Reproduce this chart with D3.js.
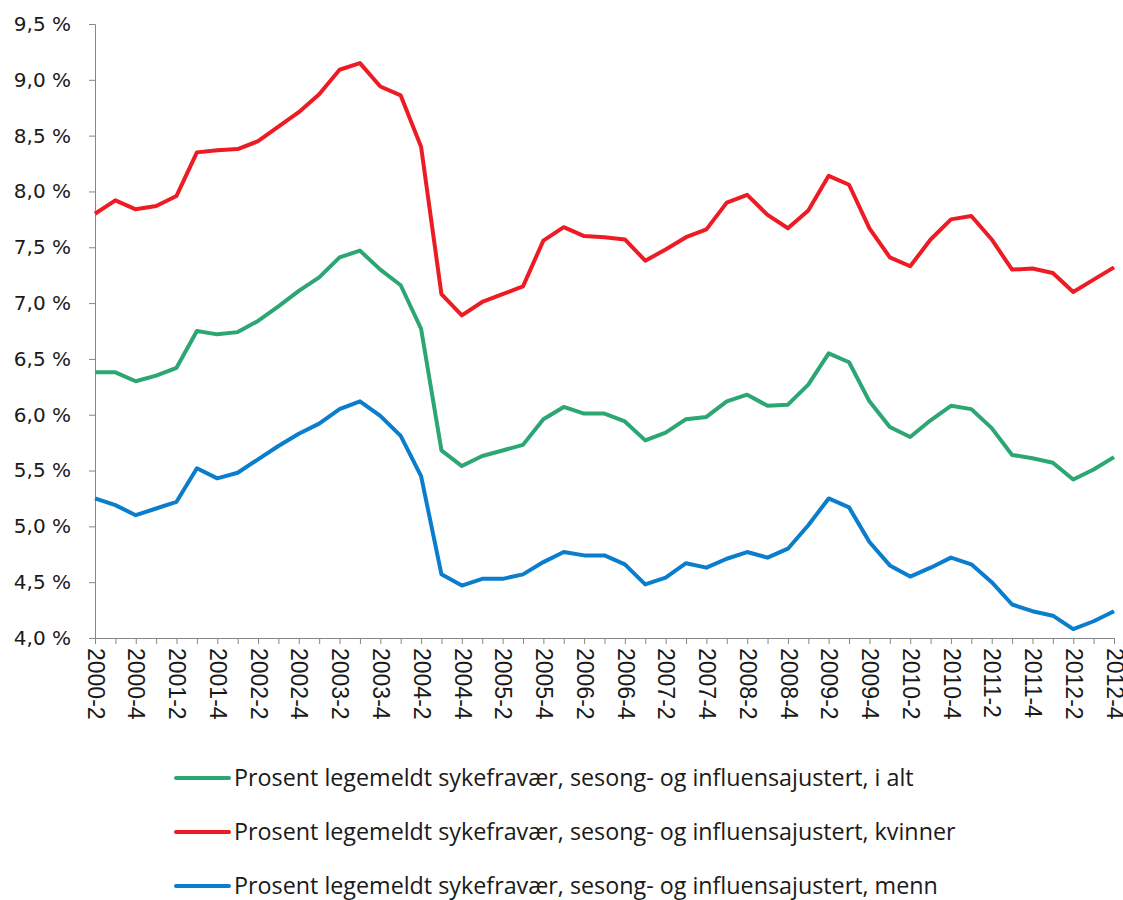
<!DOCTYPE html>
<html lang="no">
<head>
<meta charset="utf-8">
<title>Sykefravær</title>
<script src="https://d3js.org/d3.v7.min.js"></script>
<style>
  body { margin: 0; background: #fff; }
  .tick line, .domain { stroke: #868686; }
  .ylab text { font-family: "DejaVu Sans", Verdana, sans-serif; font-size: 20px; fill: #1a1a1a; }
  .xlab text { font-family: "Liberation Sans", Arial, sans-serif; font-size: 23px; fill: #1a1a1a; }
  .legend text { font-family: "Liberation Sans Narrow", "Open Sans", sans-serif; fill: #1a1a1a; }
</style>
</head>
<body>
<div id="chart"></div>
<script>
// quarters on the x axis
var quarters = [
  "2000-2","2000-3","2000-4",
  "2001-1","2001-2","2001-3","2001-4",
  "2002-1","2002-2","2002-3","2002-4",
  "2003-1","2003-2","2003-3","2003-4",
  "2004-1","2004-2","2004-3","2004-4",
  "2005-1","2005-2","2005-3","2005-4",
  "2006-1","2006-2","2006-3","2006-4",
  "2007-1","2007-2","2007-3","2007-4",
  "2008-1","2008-2","2008-3","2008-4",
  "2009-1","2009-2","2009-3","2009-4",
  "2010-1","2010-2","2010-3","2010-4",
  "2011-1","2011-2","2011-3","2011-4",
  "2012-1","2012-2","2012-3","2012-4"
];

// percent, i alt
var iAlt = [6.38,6.38,6.30,6.35,6.42,6.75,6.72,6.74,6.84,6.97,7.11,7.23,7.41,7.47,7.30,7.16,6.77,
  5.68,5.54,5.63,5.68,5.73,5.96,6.07,6.01,6.01,5.94,5.77,5.84,5.96,5.98,6.12,6.18,6.08,6.09,
  6.27,6.55,6.47,6.12,5.89,5.80,5.95,6.08,6.05,5.88,5.64,5.61,5.57,5.42,5.51,5.62];

// percent, kvinner
var kvinner = [7.80,7.92,7.84,7.87,7.96,8.35,8.37,8.38,8.45,8.58,8.71,8.87,9.09,9.15,8.94,8.86,8.40,
  7.08,6.89,7.01,7.08,7.15,7.56,7.68,7.60,7.59,7.57,7.38,7.48,7.59,7.66,7.90,7.97,7.79,7.67,
  7.83,8.14,8.06,7.67,7.41,7.33,7.57,7.75,7.78,7.57,7.30,7.31,7.27,7.10,7.21,7.32];

// percent, menn
var menn = [5.25,5.19,5.10,5.16,5.22,5.52,5.43,5.48,5.60,5.72,5.83,5.92,6.05,6.12,5.99,5.81,5.45,
  4.57,4.47,4.53,4.53,4.57,4.68,4.77,4.74,4.74,4.66,4.48,4.54,4.67,4.63,4.71,4.77,4.72,4.80,
  5.01,5.25,5.17,4.86,4.65,4.55,4.63,4.72,4.66,4.50,4.30,4.24,4.20,4.08,4.15,4.24];

var yTicks = [4.0,4.5,5.0,5.5,6.0,6.5,7.0,7.5,8.0,8.5,9.0,9.5];

var seriesNames = [
  "Prosent legemeldt sykefravær, sesong- og influensajustert, i alt",
  "Prosent legemeldt sykefravær, sesong- og influensajustert, kvinner",
  "Prosent legemeldt sykefravær, sesong- og influensajustert, menn"
];
var seriesColors = ["#2ca673", "#ed1c24", "#0a7dcc"];
var seriesValues = [iAlt, kvinner, menn];

function drawChart(){
  var width = 1123, height = 900;
  var plotLeft = 95, plotRight = 1114, plotTop = 24, plotBottom = 638;

  var svg = d3.select("#chart").append("svg")
    .attr("width", width)
    .attr("height", height);

  var xScale = d3.scalePoint()
    .domain(quarters)
    .range([plotLeft, plotRight]);

  var yScale = d3.scaleLinear()
    .domain([4, 9.5])
    .range([plotBottom, plotTop]);

  // y axis
  var yAxis = d3.axisLeft(yScale)
    .tickValues(yTicks)
    .tickSize(6)
    .tickPadding(18)
    .tickFormat(function(d){ return d3.format(".1f")(d).replace(".", ",") + " %"; });

  svg.append("g")
    .attr("class", "ylab")
    .attr("transform", "translate(" + plotLeft + ",0)")
    .call(yAxis);

  // x axis, a label on every second quarter
  var xAxis = d3.axisBottom(xScale)
    .tickSize(6)
    .tickSizeOuter(0)
    .tickFormat(function(d, i){ return i % 2 === 0 ? d : ""; });

  svg.append("g")
    .attr("class", "xlab")
    .attr("transform", "translate(0," + plotBottom + ")")
    .call(xAxis)
    .selectAll("text")
      .attr("transform", "rotate(90)")
      .attr("text-anchor", "start")
      .attr("x", 10)
      .attr("y", 0)
      .attr("dy", "0.34em");

  // lines
  var line = d3.line()
    .x(function(d, i){ return xScale(quarters[i]); })
    .y(function(d){ return yScale(d); });

  // draw order: i alt, menn, kvinner
  [0, 2, 1].forEach(function(k){
    svg.append("path")
      .datum(seriesValues[k])
      .attr("fill", "none")
      .attr("stroke", seriesColors[k])
      .attr("stroke-width", 4)
      .attr("stroke-linejoin", "round")
      .attr("d", line);
  });

  // legend
  var legend = svg.append("g").attr("class", "legend");
  var legendY = [778, 832, 886];

  seriesNames.forEach(function(name, k){
    legend.append("line")
      .attr("x1", 176).attr("x2", 229)
      .attr("y1", legendY[k]).attr("y2", legendY[k])
      .attr("stroke", seriesColors[k])
      .attr("stroke-width", 4)
      .attr("stroke-linecap", "round");
    legend.append("text")
      .attr("x", 234)
      .attr("y", legendY[k])
      .attr("dy", "0.36em")
      .style("font-size", "24px")
      .text(name);
  });

  // fit the legend font so the first entry is about 680px wide
  var first = legend.select("text").node();
  var size = 24 * 680 / first.getComputedTextLength();
  legend.selectAll("text").style("font-size", size + "px");
}

drawChart();
</script>
</body>
</html>
